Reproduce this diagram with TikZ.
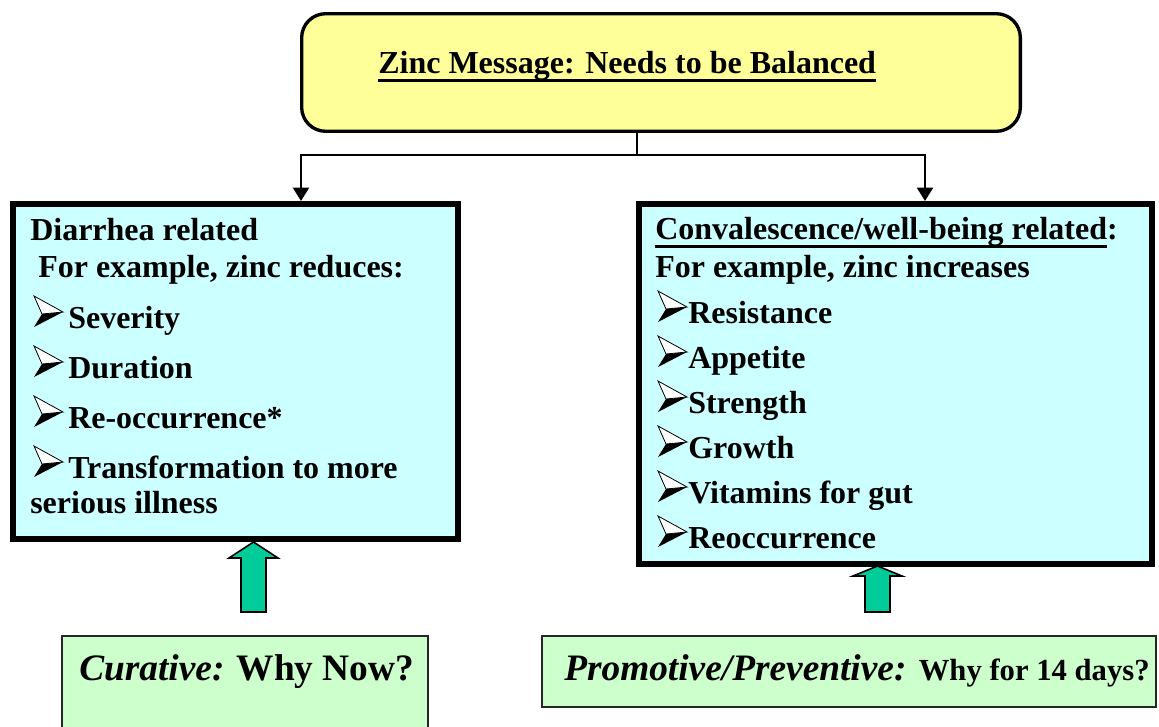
\documentclass[tikz,border=0pt]{standalone}
\usepackage{fontspec}
\setmainfont{Liberation Serif}
\usepackage{xcolor}
\usepackage{tikz}
\usetikzlibrary{arrows.meta}

\definecolor{zincyellow}{HTML}{FFFF99}
\definecolor{zinccyan}{HTML}{CCFFFF}
\definecolor{zincgreen}{HTML}{CCFFCC}
\definecolor{upgreen}{HTML}{00CC99}

% thick underline as in the slide
\newcommand{\undl}[1]{\setbox0\hbox{#1}\rlap{\rule[-6pt]{\wd0}{2.2pt}}\box0}

\tikzset{
  arrowbul/.pic={
    \fill[black] (8,-14) -- (29,-16) -- (0,-1) -- cycle;
    \draw[line width=0.6pt, fill=white, line join=miter] (0,-32) -- (29,-16) -- (8,-14) -- cycle;
  }
}

\begin{document}
\begin{tikzpicture}[x=0.75pt, y=-0.75pt,
    txt/.style={anchor=base west, inner sep=0pt, font=\bfseries\fontsize{24}{28}\selectfont},
    tri/.style={line width=1.5pt, -{Triangle[width=12pt, length=10pt]}}]
  \useasboundingbox (0,0) rectangle (1159,727);
  \clip (0,0) rectangle (1159,727);

  % boxes
  \node[draw, line width=2.5pt, fill=zincyellow, rounded corners=18pt,
        minimum width=539pt, minimum height=88.2pt] (zinc) at (661,72.5) {};
  \node[draw, line width=4.5pt, fill=zinccyan,
        minimum width=333.75pt, minimum height=251.25pt] (diar) at (235.5,371.5) {};
  \node[draw, line width=4.5pt, fill=zinccyan,
        minimum width=384.75pt, minimum height=270pt] (conv) at (895.5,384) {};
  \node[draw=black!85, line width=1.5pt, fill=zincgreen,
        minimum width=274.5pt, minimum height=108pt] (cur) at (245,708) {};
  \node[draw=black!85, line width=1.5pt, fill=zincgreen,
        minimum width=460.5pt, minimum height=53.25pt] (prom) at (849,671.5) {};

  % connectors
  \coordinate (split) at (637,155);
  \coordinate (la) at (301,155);
  \coordinate (ra) at (925,155);
  \draw[line width=1.5pt] (zinc.south -| split) -- (split);
  \draw[tri] (split) -| (diar.north -| la);
  \draw[tri] (split) -| (conv.north -| ra);

  % green up arrows
  \draw[line width=1.2pt, fill=upgreen, line join=miter]
    (253.5,542) -- (278,558) -- (266,558) -- (266,612) -- (241,612) -- (241,558) -- (229,558) -- cycle;
  \draw[line width=1.2pt, fill=upgreen, line join=miter]
    (877.5,566) -- (902,576) -- (890,576) -- (890,612) -- (865,612) -- (865,576) -- (853,576) -- cycle;

  % title
  \node[txt] (title) at (378,74) {\undl{Zinc Message: Needs to be Balanced}};

  % left box
  \node[txt] (d1) at (30,241) {Diarrhea related};
  \node[txt] (d2) at (38,277) {For example, zinc reduces:};
  \pic at (34,328) {arrowbul};
  \node[txt] (d3) at (68,328) {Severity};
  \pic at (34,378) {arrowbul};
  \node[txt] (d4) at (68,378) {Duration};
  \pic at (34,428) {arrowbul};
  \node[txt] (d5) at (68,428) {Re-occurrence*};
  \pic at (34,478) {arrowbul};
  \node[txt] (d6) at (68,478) {Transformation to more};
  \node[txt] (d7) at (30,513) {serious illness};

  % right box
  \node[txt] (c1) at (655,240) {\undl{Convalescence/well-being related}:};
  \node[txt] (c2) at (655,277) {For example, zinc increases};
  \pic at (658,323) {arrowbul};
  \node[txt] (c3) at (688,323) {Resistance};
  \pic at (658,368) {arrowbul};
  \node[txt] (c4) at (688,368) {Appetite};
  \pic at (658,413) {arrowbul};
  \node[txt] (c5) at (688,413) {Strength};
  \pic at (658,458) {arrowbul};
  \node[txt] (c6) at (688,458) {Growth};
  \pic at (658,503) {arrowbul};
  \node[txt] (c7) at (688,503) {Vitamins for gut};
  \pic at (658,548) {arrowbul};
  \node[txt] (c8) at (688,548) {Reoccurrence};

  % bottom boxes
  \node[anchor=base west, inner sep=0pt, font=\bfseries\fontsize{28}{32}\selectfont] (curtxt) at (79,680)
    {\textit{Curative:} Why Now?};
  \node[anchor=base west, inner sep=0pt, font=\bfseries\fontsize{28}{32}\selectfont] (promtxt) at (564,680)
    {\textit{Promotive/Preventive:} {\fontsize{23}{27}\selectfont Why for 14 days?}};
\end{tikzpicture}
\end{document}
